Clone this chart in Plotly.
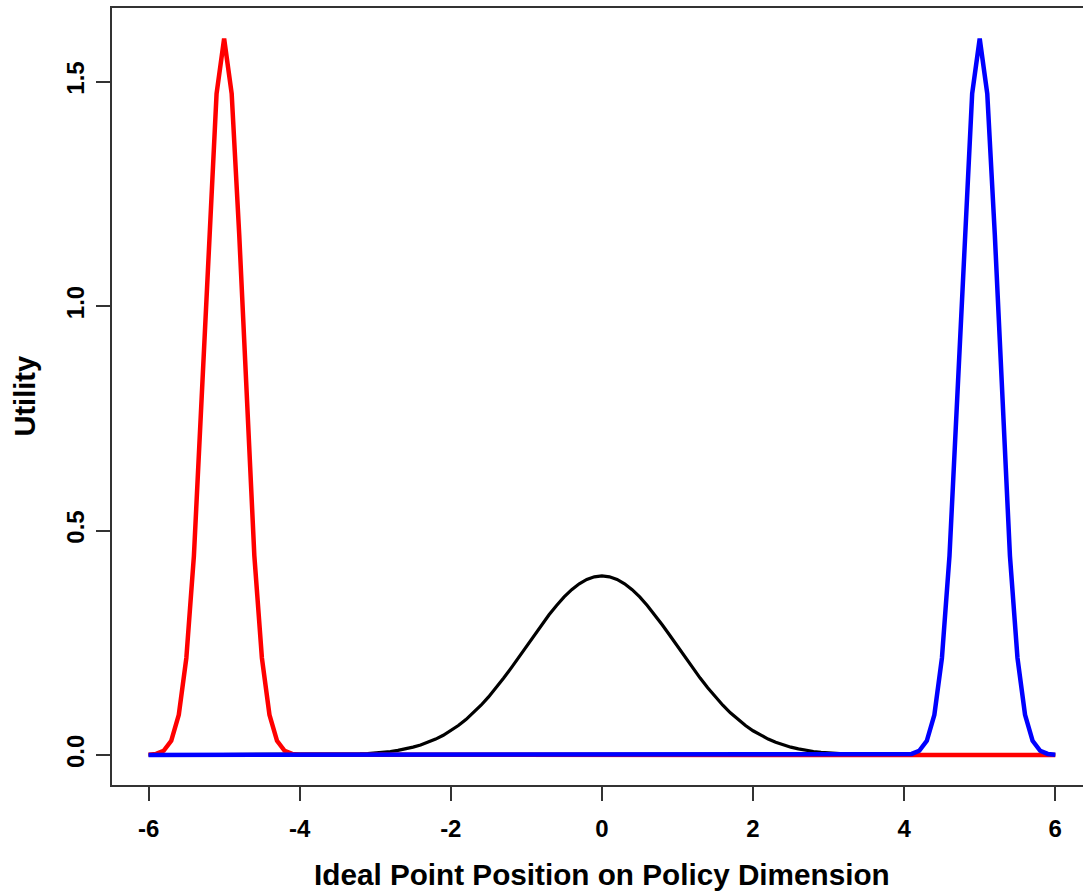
import plotly.graph_objects as go

# ---- data ----
red_x = [-6.0, -5.9, -5.8, -5.7, -5.6, -5.5, -5.4, -5.3, -5.2, -5.1, -5.0,
         -4.9, -4.8, -4.7, -4.6, -4.5, -4.4, -4.3, -4.2, -4.1, -4.0, 6.0]
red_y = [0.0005, 0.0024, 0.0095, 0.0317, 0.0896, 0.2160, 0.4437, 0.7769, 1.1588, 1.4731, 1.5958,
         1.4731, 1.1588, 0.7769, 0.4437, 0.2160, 0.0896, 0.0317, 0.0095, 0.0024, 0.0005, 0.0]

blue_x = [-6.0, 4.0, 4.1, 4.2, 4.3, 4.4, 4.5, 4.6, 4.7, 4.8, 4.9, 5.0,
          5.1, 5.2, 5.3, 5.4, 5.5, 5.6, 5.7, 5.8, 5.9, 6.0]
blue_y = [0.0, 0.0005, 0.0024, 0.0095, 0.0317, 0.0896, 0.2160, 0.4437, 0.7769, 1.1588, 1.4731, 1.5958,
          1.4731, 1.1588, 0.7769, 0.4437, 0.2160, 0.0896, 0.0317, 0.0095, 0.0024, 0.0005]

black_x = [-6.0,
           -3.4, -3.3, -3.2, -3.1, -3.0, -2.9, -2.8, -2.7, -2.6, -2.5, -2.4, -2.3, -2.2, -2.1, -2.0,
           -1.9, -1.8, -1.7, -1.6, -1.5, -1.4, -1.3, -1.2, -1.1, -1.0, -0.9, -0.8, -0.7, -0.6, -0.5,
           -0.4, -0.3, -0.2, -0.1, 0.0, 0.1, 0.2, 0.3, 0.4, 0.5, 0.6, 0.7, 0.8, 0.9, 1.0,
           1.1, 1.2, 1.3, 1.4, 1.5, 1.6, 1.7, 1.8, 1.9, 2.0, 2.1, 2.2, 2.3, 2.4, 2.5,
           2.6, 2.7, 2.8, 2.9, 3.0, 3.1, 3.2, 3.3, 3.4,
           6.0]
black_y = [0.0,
           0.0012, 0.0017, 0.0024, 0.0033, 0.0044, 0.0060, 0.0079, 0.0104, 0.0136, 0.0175, 0.0224,
           0.0283, 0.0355, 0.0440, 0.0540, 0.0656, 0.0790, 0.0940, 0.1109, 0.1295, 0.1497, 0.1714,
           0.1942, 0.2179, 0.2420, 0.2661, 0.2897, 0.3123, 0.3332, 0.3521, 0.3683, 0.3814, 0.3910,
           0.3970, 0.3989, 0.3970, 0.3910, 0.3814, 0.3683, 0.3521, 0.3332, 0.3123, 0.2897, 0.2661,
           0.2420, 0.2179, 0.1942, 0.1714, 0.1497, 0.1295, 0.1109, 0.0940, 0.0790, 0.0656, 0.0540,
           0.0440, 0.0355, 0.0283, 0.0224, 0.0175, 0.0136, 0.0104, 0.0079, 0.0060, 0.0044, 0.0033,
           0.0024, 0.0017, 0.0012,
           0.0]

x_ticks = [-6, -4, -2, 0, 2, 4, 6]
y_ticks = [0.0, 0.5, 1.0, 1.5]
x_title = "Ideal Point Position on Policy Dimension"
y_title = "Utility"

FONT = "Liberation Sans, Arial, sans-serif"

fig = go.Figure()
fig.add_trace(go.Scatter(x=black_x, y=black_y, mode="lines",
                         line=dict(color="#000000", width=3.2), showlegend=False))
fig.add_trace(go.Scatter(x=red_x, y=red_y, mode="lines",
                         line=dict(color="#FF0000", width=4.5), showlegend=False))
fig.add_trace(go.Scatter(x=blue_x, y=blue_y, mode="lines",
                         line=dict(color="#0000FF", width=4.5), showlegend=False))

fig.update_layout(
    width=1083, height=894,
    margin=dict(l=112, r=0, t=8, b=109),
    plot_bgcolor="white", paper_bgcolor="white",
    font=dict(family=FONT, color="black"),
    hovermode=False,
    xaxis=dict(range=[-6.484, 6.367], tickvals=x_ticks, ticktext=[str(v) for v in x_ticks],
               showgrid=False, zeroline=False,
               showline=True, mirror=True, linecolor="#333333", linewidth=2,
               ticks="outside", ticklen=14, tickwidth=2, tickcolor="#333333",
               tickfont=dict(size=24, family=FONT, weight="bold"), ticklabelstandoff=7),
    yaxis=dict(range=[-0.0668, 1.664], tickvals=y_ticks, ticktext=[f"{v:.1f}" for v in y_ticks],
               showgrid=False, zeroline=False,
               showline=True, mirror=False, linecolor="#333333", linewidth=2,
               ticks="outside", ticklen=14, tickwidth=2, tickcolor="#333333", tickangle=-90,
               tickfont=dict(size=24, family=FONT, weight="bold"), ticklabelstandoff=2),
    annotations=[
        dict(text=x_title, xref="x", yref="paper", x=0, y=-0.1158, xanchor="center", yanchor="middle",
             showarrow=False, font=dict(size=29.7, family=FONT, weight="bold", color="black")),
        dict(text=y_title, xref="paper", yref="paper", x=-0.0906, y=0.5, xanchor="center", yanchor="middle",
             textangle=-90, showarrow=False, font=dict(size=29, family=FONT, weight="bold", color="black")),
    ],
)

fig.write_html("out.html", config={"displayModeBar": False},
               post_script="document.body.style.margin='0';document.body.style.overflow='hidden';")
